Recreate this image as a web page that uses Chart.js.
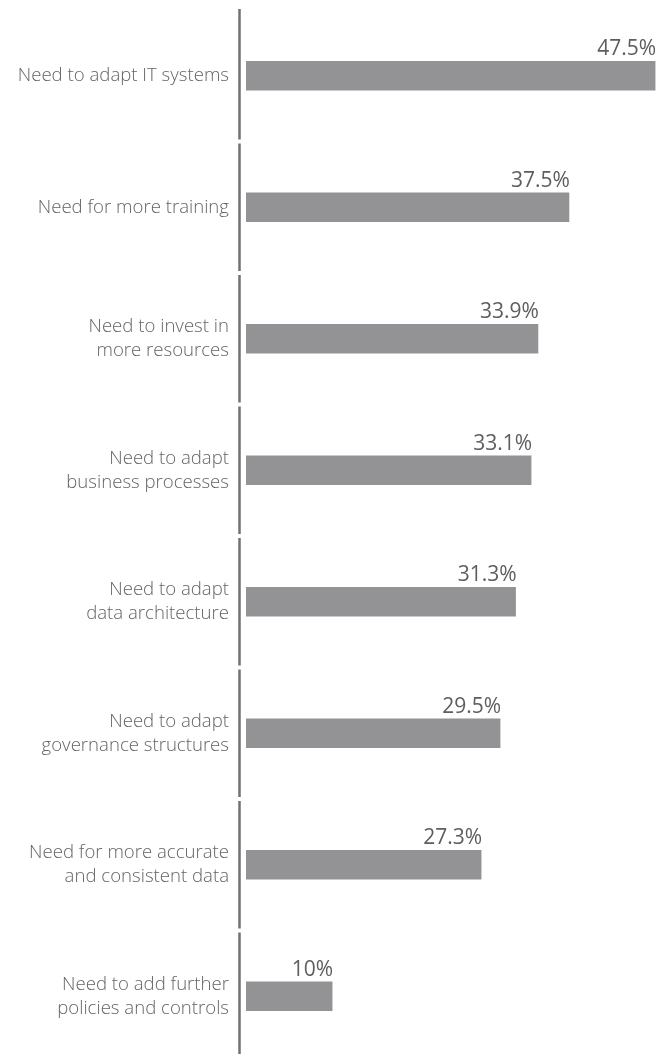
<!DOCTYPE html>
<html>
<head>
<meta charset="utf-8">
<script src="https://cdn.jsdelivr.net/npm/chart.js@4/dist/chart.umd.min.js"></script>
<style>
  html, body { margin: 0; padding: 0; background: #fff; overflow: hidden; }
  #wrap { width: 670px; height: 1062px; position: relative; }
</style>
</head>
<body>
<div id="wrap"><canvas id="mychart"></canvas></div>
<script>

let categorias = [
    'Need to adapt IT systems',
    'Need for more training',
    ['Need to invest in', 'more resources'],
    ['Need to adapt', 'business processes'],
    ['Need to adapt', 'data architecture'],
    ['Need to adapt', 'governance structures'],
    ['Need for more accurate', 'and consistent data'],
    ['Need to add further', 'policies and controls']
];
let valores = [47.5, 37.5, 33.9, 33.1, 31.3, 29.5, 27.3, 10];
let rotulos = ['47.5%', '37.5%', '33.9%', '33.1%', '31.3%', '29.5%', '27.3%', '10%'];

// vertical axis drawn as one short segment per category, with small gaps between
let linhaSegmentada = {
    id: 'linhaSegmentada',
    afterDraw(chart) {
        let c = chart.ctx;
        let area = chart.chartArea;
        let n = categorias.length;
        let passo = (area.bottom - area.top) / n;
        let x = area.left - 6.5;
        c.save();
        c.strokeStyle = '#717175';
        c.lineWidth = 2.5;
        for (let i = 0; i < n; i++) {
            let y0 = area.top + i * passo + (i == 0 ? -1 : 2);
            let y1 = area.top + (i + 1) * passo - 2;
            c.beginPath();
            c.moveTo(x, y0);
            c.lineTo(x, y1);
            c.stroke();
        }
        c.restore();
    }
};

// value printed above the end of each bar
let rotuloValor = {
    id: 'rotuloValor',
    afterDatasetsDraw(chart) {
        let c = chart.ctx;
        let barras = chart.getDatasetMeta(0).data;
        c.save();
        c.font = '21px "Open Sans"';
        c.fillStyle = '#5e5e60';
        c.textAlign = 'right';
        c.textBaseline = 'alphabetic';
        barras.forEach(function (b, i) {
            c.fillText(rotulos[i], b.x + 1, b.y - b.height / 2 - 6);
        });
        c.restore();
    }
};

function grafico(ctx) {
    let datasets = [
        {
            data: valores,
            backgroundColor: '#939396',
            borderWidth: 0,
            barThickness: 29
        }
    ];

    return new Chart(ctx, {
        type: 'bar',
        data: { labels: categorias, datasets: datasets },
        plugins: [linhaSegmentada, rotuloValor],
        options: {
            indexAxis: 'y',
            responsive: true,
            maintainAspectRatio: false,
            animation: false,
            layout: { padding: { top: 10, right: 10.6, bottom: 0, left: 0 } },
            plugins: {
                legend: { display: false },
                tooltip: { enabled: false }
            },
            scales: {
                x: {
                    display: false,
                    min: 0,
                    max: 48
                },
                y: {
                    grid: { display: false, drawTicks: false },
                    border: { display: false },
                    ticks: {
                        padding: 17,
                        color: '#646466',
                        font: { family: '"Open Sans"', size: 18.6, weight: 300, lineHeight: 1.29 }
                    },
                    afterFit(scale) {
                        // fixed gutter for the labels, no extra room above/below
                        scale.width = 246;
                        scale.paddingTop = 0;
                        scale.paddingBottom = 0;
                    }
                }
            }
        }
    });
}

let ctx = document.getElementById('mychart');
let chart = grafico(ctx);
</script>
</body>
</html>
